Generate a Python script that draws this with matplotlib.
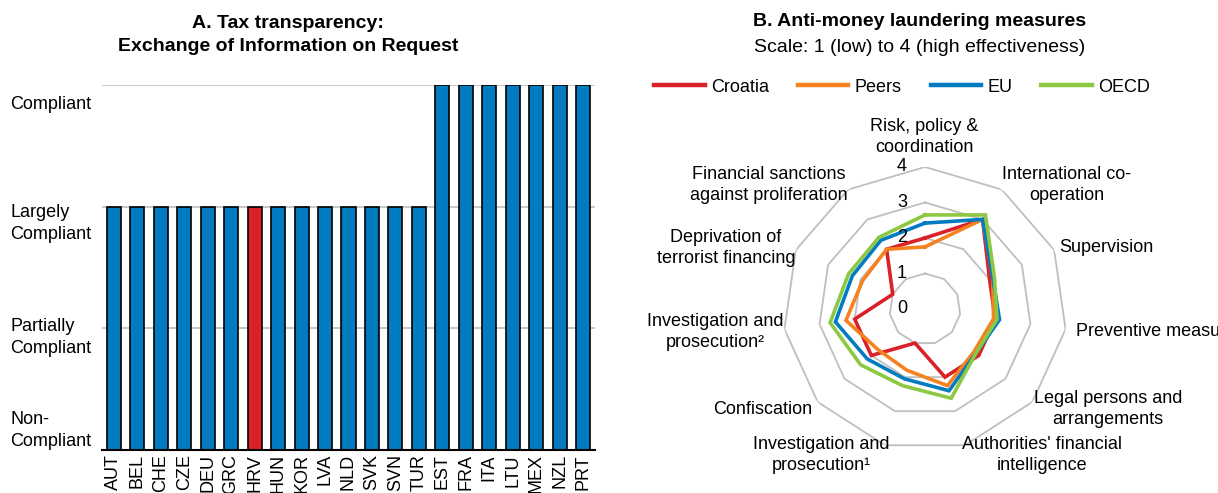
import numpy as np
import matplotlib.pyplot as plt
from matplotlib import font_manager
from matplotlib.lines import Line2D
from matplotlib.transforms import offset_copy

# ---- data ----
countries = ["AUT", "BEL", "CHE", "CZE", "DEU", "GRC", "HRV", "HUN", "KOR", "LVA", "NLD",
             "SVK", "SVN", "TUR", "EST", "FRA", "ITA", "LTU", "MEX", "NZL", "PRT"]
eoir_rating = [2, 2, 2, 2, 2, 2, 2, 2, 2, 2, 2, 2, 2, 2, 3, 3, 3, 3, 3, 3, 3]
rating_labels = ["Non-\nCompliant", "Partially\nCompliant", "Largely\nCompliant", "Compliant"]

aml_outcomes = ["Risk, policy &\ncoordination", "International co-\noperation", "Supervision",
                "Preventive measures", "Legal persons and\narrangements",
                "Authorities' financial\nintelligence", "Investigation and\nprosecution\u00b9",
                "Confiscation", "Investigation and\nprosecution\u00b2",
                "Deprivation of\nterrorist financing", "Financial sanctions\nagainst proliferation"]
croatia = [2, 3, 2, 2, 2, 2, 1, 2, 2, 1, 2]
peers = [1.75, 3.0, 2.1, 1.95, 1.83, 2.25, 1.8, 1.75, 2.25, 1.93, 2.0]
eu = [2.42, 3.0, 2.1, 2.12, 1.9, 2.4, 2.05, 2.15, 2.55, 2.25, 2.3]
oecd = [2.65, 3.15, 2.15, 2.05, 1.9, 2.62, 2.25, 2.4, 2.7, 2.37, 2.4]

RED = "#DA2128"
ORANGE = "#F58220"
BLUE = "#037BC1"
GREEN = "#8CC841"
GRID = "#BFBFBF"

installed = {f.name for f in font_manager.fontManager.ttflist}
base = "Liberation Sans Narrow" if "Liberation Sans Narrow" in installed else "Liberation Sans"
plt.rcParams["font.family"] = [base, "DejaVu Sans"]

W, H = 1218, 493
fig = plt.figure(figsize=(W / 100, H / 100), dpi=100)


def fx(px):
    return px / W


def fy(py):
    return 1 - py / H


# ---- panel A ----
ax = fig.add_axes([fx(102), fy(450), fx(595) - fx(102), fy(85) - fy(450)])
x = np.arange(len(countries))
colors = [RED if c == "HRV" else BLUE for c in countries]
ax.bar(x, eoir_rating, width=0.6, color=colors, edgecolor="black", linewidth=1.2, zorder=3)
ax.set_xlim(-0.5, len(countries) - 0.5)
ax.set_ylim(0, 3)
ax.set_xticks(x, countries, rotation=90, fontsize=13)
ax.set_yticks([0.2, 0.96, 1.9, 2.86], rating_labels, fontsize=13)
ax.set_yticks([1, 2, 3], minor=True)
ax.tick_params(axis="y", which="both", length=0, pad=66)
ax.tick_params(axis="x", length=0, pad=3)
for lab in ax.get_yticklabels():
    lab.set_ha("left")
    lab.set_linespacing(1.4)
ax.grid(axis="y", which="minor", color=GRID, linewidth=1.2, zorder=0)
for s in ["left", "right", "top"]:
    ax.spines[s].set_visible(False)
ax.spines["bottom"].set_linewidth(1.5)
ax.spines["bottom"].set_zorder(4)

fig.text(fx(288), fy(35), "A. Tax transparency:\nExchange of Information on Request",
         ha="center", va="center", fontsize=14, fontweight="bold", linespacing=1.5)

# ---- panel B ----
R4 = 142
cx, cy = 925, 309
pax = fig.add_axes([fx(cx - R4), fy(cy + R4), fx(2 * R4), 2 * R4 / H], projection="polar")
pax.set_theta_zero_location("N")
pax.set_theta_direction(-1)
pax.set_ylim(0, 4)
pax.grid(False)
pax.spines["polar"].set_visible(False)
pax.set_xticks([])
pax.set_yticks([])
pax.patch.set_alpha(0)

n = len(aml_outcomes)
theta = np.arange(n) * 2 * np.pi / n
theta_c = np.append(theta, theta[0])
for r in [1, 2, 3, 4]:
    pax.plot(theta_c, np.full(n + 1, r), color=GRID, linewidth=1.3, zorder=1)

series = [("Croatia", croatia, RED), ("Peers", peers, ORANGE), ("EU", eu, BLUE), ("OECD", oecd, GREEN)]
for name, vals, col in series:
    v = np.append(vals, vals[0])
    pax.plot(theta_c, v, color=col, linewidth=2.6, zorder=3, solid_joinstyle="miter")

lab_tr = offset_copy(pax.transData, fig=fig, x=-23, y=0, units="dots")
for r in range(5):
    pax.text(0, r, str(r), transform=lab_tr, ha="center", va="center", fontsize=13, zorder=5)

# category label positions (px, centre)
cat_pos = [(924, 137, "center"), (1067, 185, "center"), (1106, 248, "center"),
           (1076, 332, "left"), (1108, 409, "center"), (1042, 455, "center"),
           (821, 455, "center"), (763, 410, "center"), (715, 332, "center"),
           (726, 248, "center"), (769, 185, "center")]
for lab, (px, py, ha) in zip(aml_outcomes, cat_pos):
    fig.text(fx(px), fy(py), lab, ha=ha, va="center", fontsize=13, linespacing=1.35)

fig.text(fx(920), fy(21), "B. Anti-money laundering measures", ha="center", va="center",
         fontsize=14, fontweight="bold")
fig.text(fx(920), fy(48), "Scale: 1 (low) to 4 (high effectiveness)", ha="center", va="center",
         fontsize=14)

handles = [Line2D([], [], color=c, linewidth=3.2) for _, _, c in series]
fig.legend(handles, [s[0] for s in series], loc="center", bbox_to_anchor=(fx(902), fy(87)),
           ncol=4, frameon=False, fontsize=13, handlelength=2.8, handletextpad=0.35,
           columnspacing=1.6)

fig.savefig("out.png", dpi=100)
